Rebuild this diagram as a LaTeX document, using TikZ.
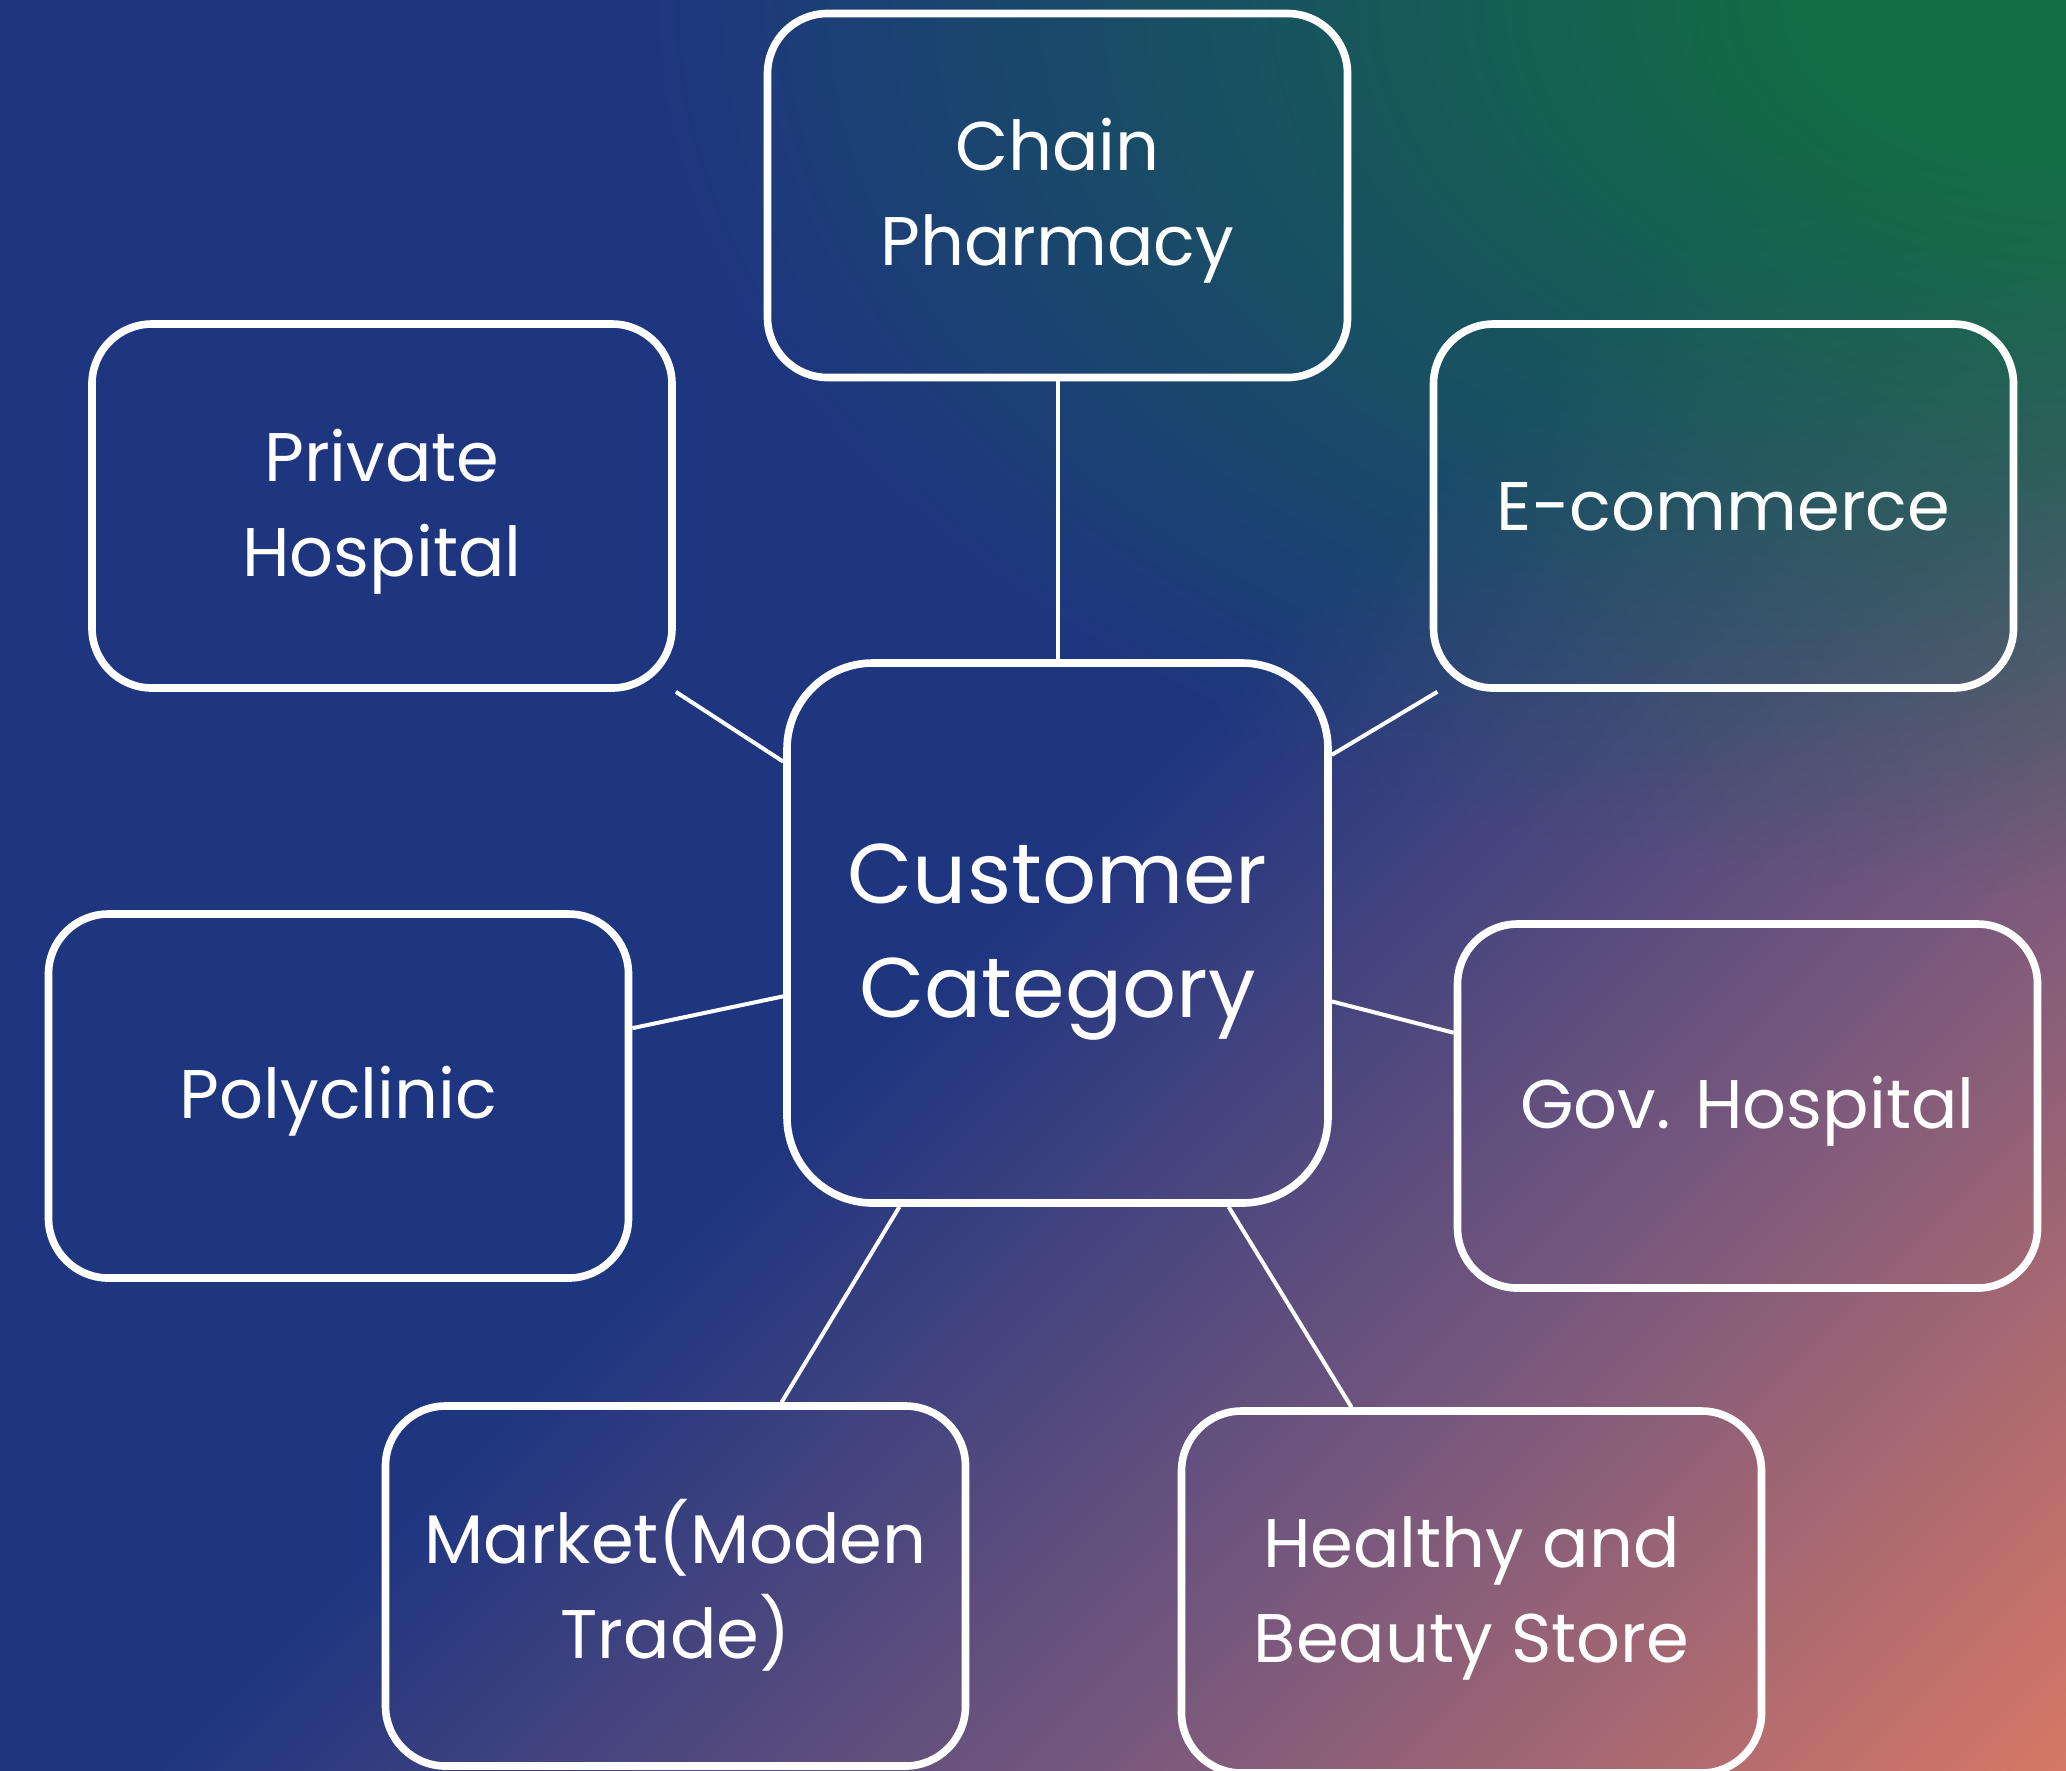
\documentclass[tikz,border=0pt]{standalone}
\usepackage{fontspec}
\setmainfont{Poppins}
\newcommand\lnstrut{\rule[-0.2em]{0pt}{1.12em}}
\pgfdeclarefunctionalshading{bgshade}{\pgfpointorigin}{\pgfpoint{1033bp}{885bp}}{}{
 2 copy 2 mul neg exch 2 mul add 1770 add 959 div
 dup 2 sub dup 0 lt {pop 0} if dup 1 gt {pop 1} if
 exch 3 sub dup 0 lt {pop 0} if dup 1 gt {pop 1} if
 4 2 roll
 1770 exch 2 mul sub 1.6 mul dup mul
 exch 2066 exch 2 mul sub dup mul add sqrt
 1200 div 1.2 exch sub dup 0 lt {pop 0} if dup 1 gt {pop 1} if
 2 index 0.353 mul 2 index 0.372 mul add 0.1176 add 1 index 1 exch sub mul 1 index 0.07 mul add 4 1 roll
 2 index 0.1373 mul 2 index 0.126 mul add 0.2078 add 1 index 1 exch sub mul 1 index 0.43 mul add 4 1 roll
 2 index -0.0118 mul 2 index -0.090 mul add 0.502 add 1 index 1 exch sub mul 1 index 0.26 mul add 4 1 roll
 pop pop pop
}
\begin{document}
\begin{tikzpicture}[x=0.5bp,y=-0.5bp,
  box/.style={draw=white, line width=3.8bp, rounded corners=30bp,
    minimum width=290bp, minimum height=182bp, inner sep=0pt,
    align=center, text=white, font=\fontsize{34.4bp}{47.5bp}\selectfont},
  custbox/.style={box, rounded corners=43bp, minimum width=270.5bp,
    minimum height=270bp, font=\fontsize{42.3bp}{57bp}\selectfont},
  link/.style={draw=white, line width=2bp}]
\useasboundingbox (0,0) rectangle (2066,1770);
\node[inner sep=0pt, outer sep=0pt, anchor=south west] (bg) at (0,1770) {\pgfuseshading{bgshade}};
\node[box] (chain) at (1057.5,195.5) {\lnstrut Chain\\\lnstrut Pharmacy};
\node[box] (priv) at (382,506) {\lnstrut Private\\\lnstrut Hospital};
\node[box] (ecom) at (1723.5,506) {\lnstrut E-commerce};
\node[custbox] (cust) at (1057.5,933) {\lnstrut Customer\\\lnstrut Category};
\node[box] (poly) at (338.5,1096) {\lnstrut Polyclinic};
\node[box] (gov) at (1747.5,1106) {\lnstrut Gov. Hospital};
\node[box, minimum height=180bp] (market) at (675.5,1586) {\lnstrut Market(Moden\\\lnstrut Trade)};
\node[box, minimum height=181bp] (health) at (1471.5,1592) {\lnstrut Healthy and\\\lnstrut Beauty Store};
\draw[link] (chain.south) -- (cust.north);
\draw[link] (priv.south east) -- (cust.148);
\draw[link] (ecom.213) -- (cust.33);
\draw[link] (poly.13) -- (cust.193);
\draw[link] (gov.166) -- (cust.346);
\draw[link] (market.60) -- (cust.240);
\draw[link] (health.123) -- (cust.302);
\end{tikzpicture}
\end{document}
